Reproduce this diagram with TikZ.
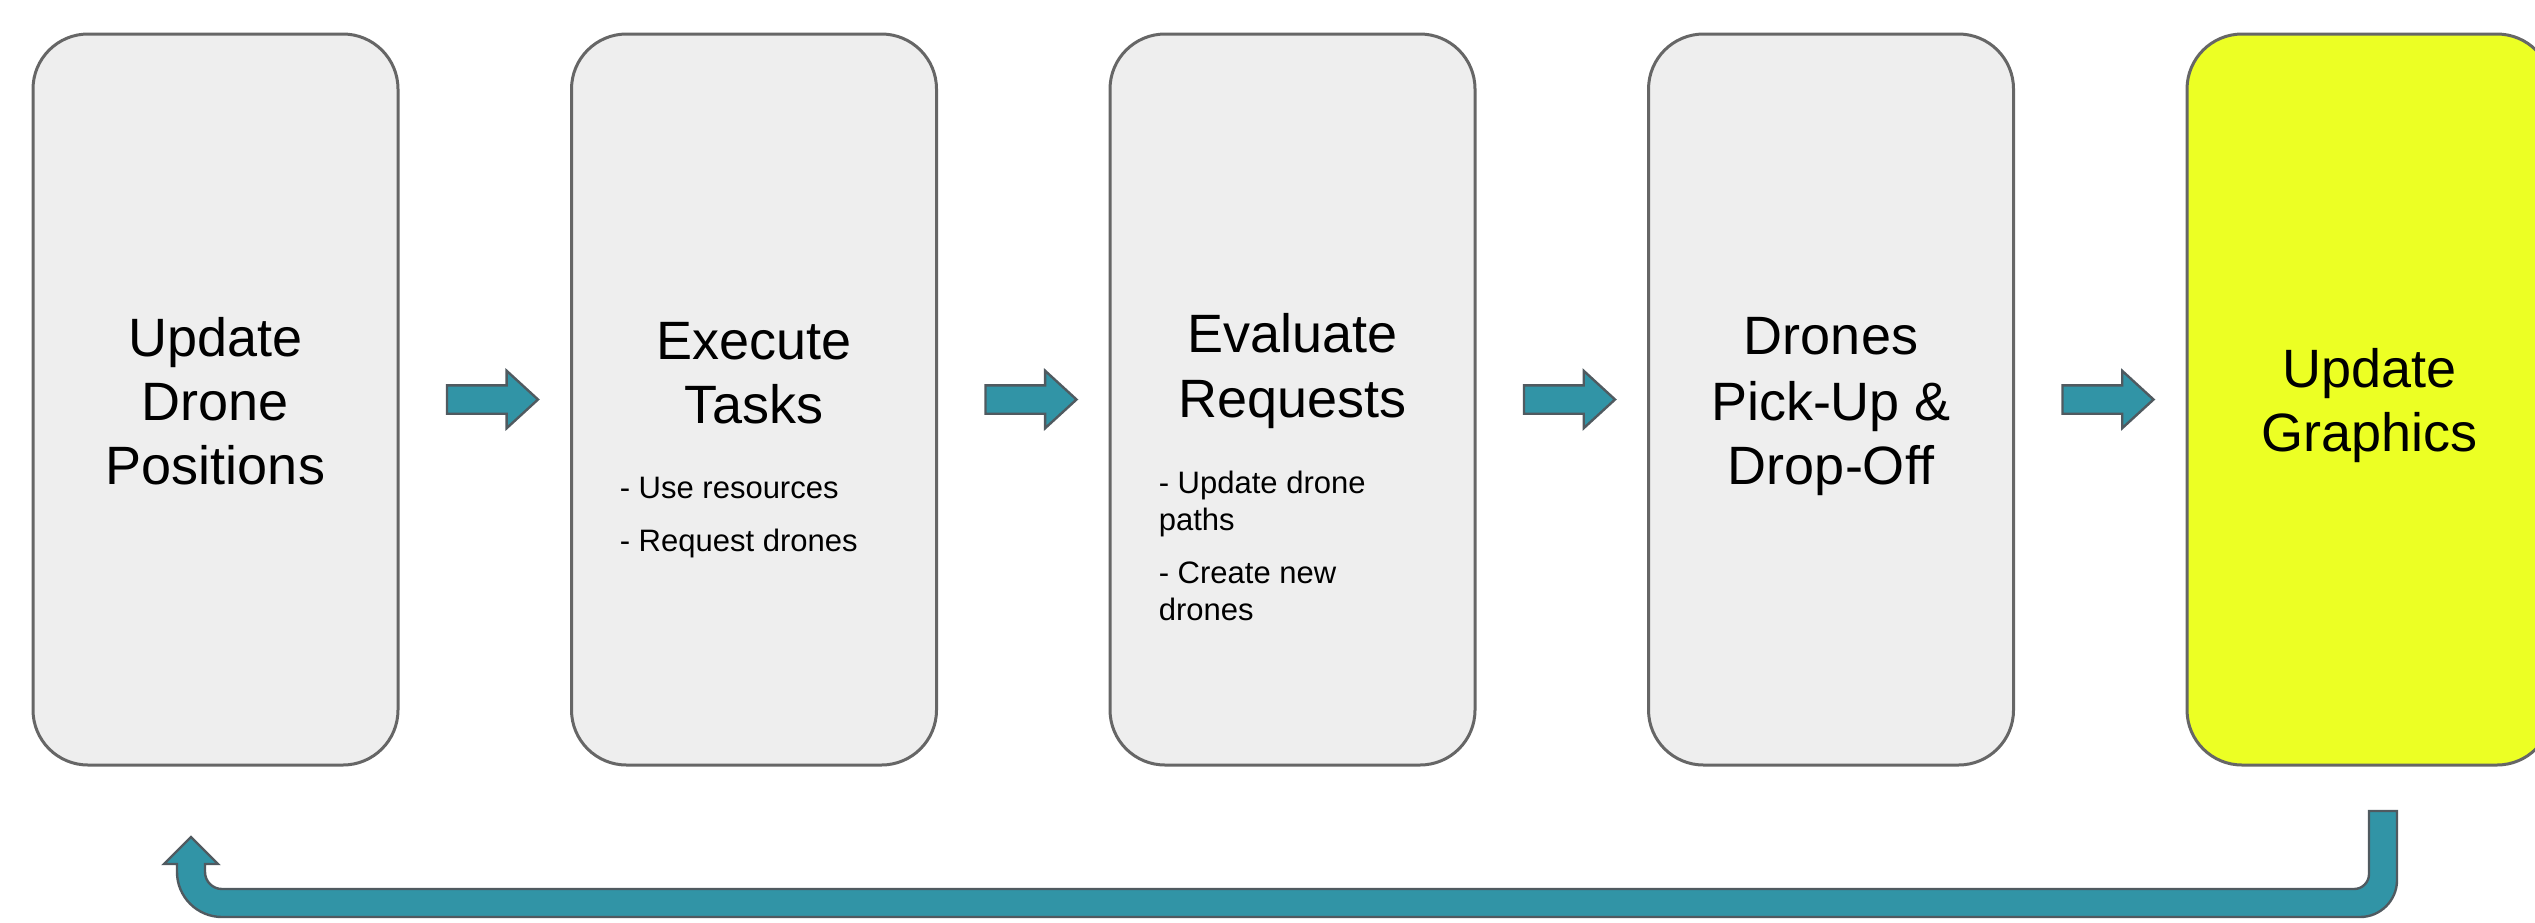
\documentclass[tikz,border=0pt]{standalone}
\usepackage{fontspec}
\setmainfont{Liberation Sans}
\usetikzlibrary{shapes.arrows,calc}
\definecolor{boxfill}{RGB}{238,238,238}
\definecolor{boxline}{RGB}{102,102,102}
\definecolor{hiyellow}{RGB}{236,255,36}
\definecolor{tealfill}{RGB}{49,148,166}
\definecolor{arrowline}{RGB}{80,90,96}
\tikzset{
  stagebox/.style={draw=boxline, fill=boxfill, line width=0.75pt, rounded corners=13.75pt,
    minimum width=91.25pt, minimum height=182.75pt, inner sep=0pt},
  titletext/.style={anchor=base, inner sep=0pt, font=\fontsize{13.5pt}{16pt}\selectfont},
  smalltext/.style={anchor=base west, inner sep=0pt, font=\fontsize{7.75pt}{9.25pt}\selectfont},
  flowarrow/.style={single arrow, draw=arrowline, fill=tealfill, line width=0.6pt,
    minimum height=22.75pt, inner sep=3.25pt, single arrow head extend=3.625pt,
    single arrow tip angle=85},
  returnarrow/.style={draw=arrowline, fill=tealfill, line width=0.6pt, line join=miter}
}
\begin{document}
\begin{tikzpicture}[x=0.25pt, y=-0.25pt]
\useasboundingbox (0,0) rectangle (2535,922);
\clip (0,0) rectangle (2535,922);

% stage boxes
\node[stagebox] (b1) at (215.5,399.5) {};
\node[stagebox] (b2) at (754,399.5) {};
\node[stagebox] (b3) at (1292.5,399.5) {};
\node[stagebox] (b4) at (1831,399.5) {};
\node[stagebox, fill=hiyellow] (b5) at (2369.5,399.5) {};

% titles
\node[titletext] (t1a) at (215.5,356) {Update};
\node[titletext] (t1b) at (215.5,420) {Drone};
\node[titletext] (t1c) at (215.5,484) {Positions};

\node[titletext] (t2a) at (754,359) {Execute};
\node[titletext] (t2b) at (754,423) {Tasks};
\node[smalltext] (s2a) at (619,498) {- Use resources};
\node[smalltext] (s2b) at (619,551) {- Request drones};

\node[titletext] (t3a) at (1292.5,352) {Evaluate};
\node[titletext] (t3b) at (1292.5,417) {Requests};
\node[smalltext] (s3a) at (1158,493) {- Update drone};
\node[smalltext] (s3b) at (1158,530) {paths};
\node[smalltext] (s3c) at (1158,583) {- Create new};
\node[smalltext] (s3d) at (1158,620) {drones};

\node[titletext] (t4a) at (1831,354) {Drones};
\node[titletext] (t4b) at (1831,420) {Pick-Up \&};
\node[titletext] (t4c) at (1831,484) {Drop-Off};

\node[titletext] (t5a) at (2369.5,387) {Update};
\node[titletext] (t5b) at (2369.5,451) {Graphics};

% forward arrows
\node[flowarrow] (a12) at ($(b1.east)!0.5!(b2.west)$) {};
\node[flowarrow] (a23) at ($(b2.east)!0.5!(b3.west)$) {};
\node[flowarrow] (a34) at ($(b3.east)!0.5!(b4.west)$) {};
\node[flowarrow] (a45) at ($(b4.east)!0.5!(b5.west)$) {};

% return arrow from b5 back to b1
\coordinate (rstart) at (2397,811);
\coordinate (rtip) at (191,837);
\path[returnarrow] (rstart) -- (2397,880)
  arc[start angle=0, end angle=-90, radius=9.25pt]
  -- (222,917)
  arc[start angle=-90, end angle=-180, radius=11.25pt]
  -- (177,864) -- (164,864) -- (rtip) -- (218,864) -- (205,864) -- (205,872)
  arc[start angle=180, end angle=270, radius=4.25pt]
  -- (2354,889)
  arc[start angle=270, end angle=360, radius=3.75pt]
  -- (2369,811) -- cycle;
\end{tikzpicture}
\end{document}
